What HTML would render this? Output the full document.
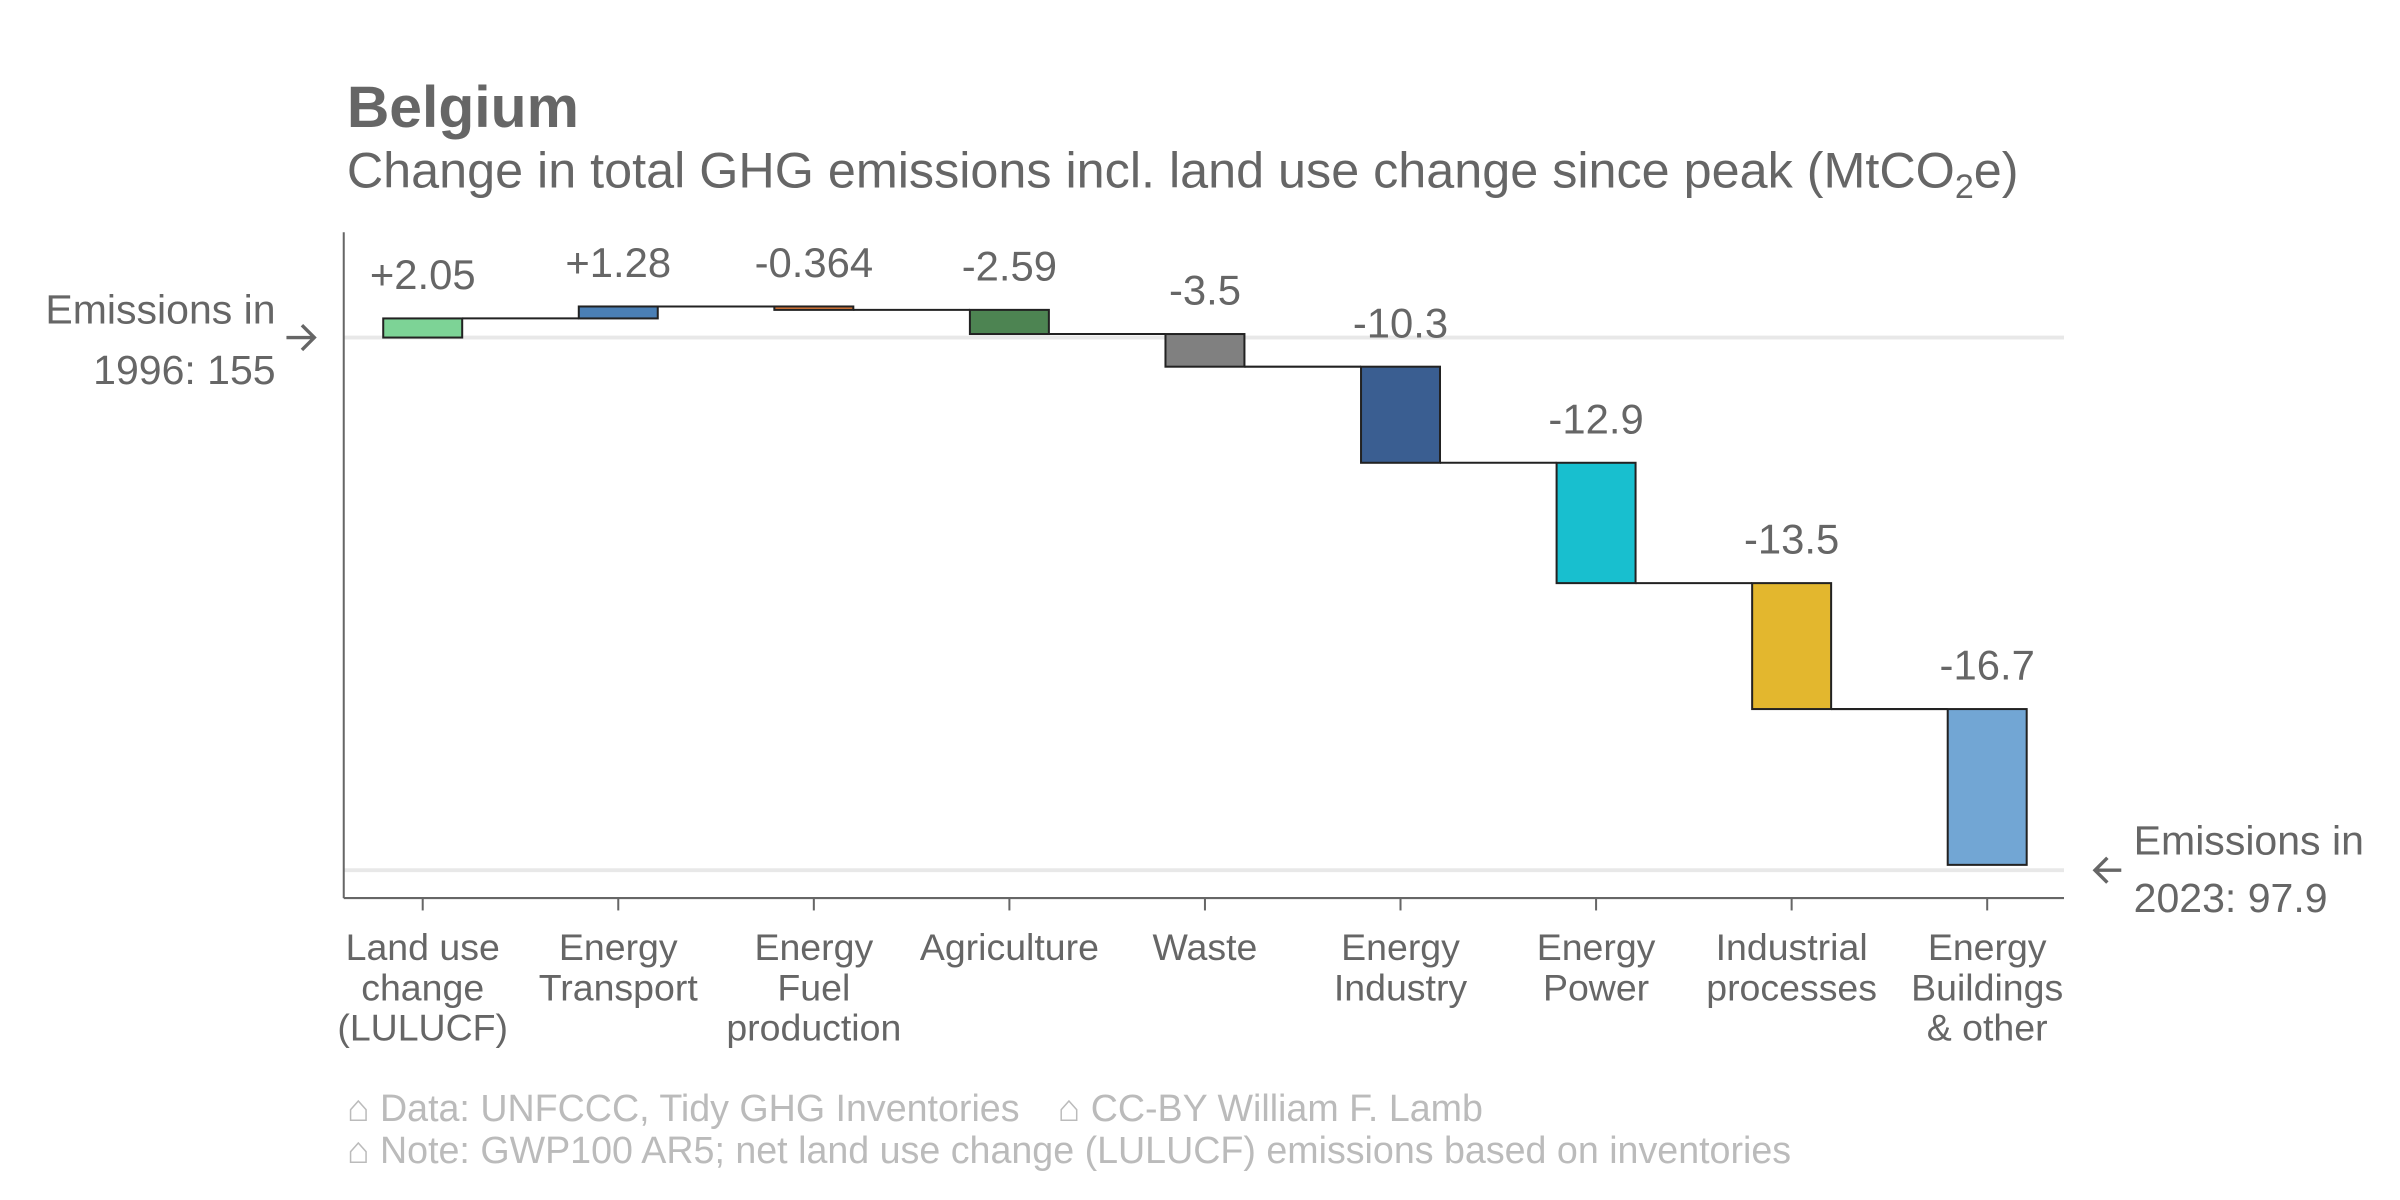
<!DOCTYPE html>
<html><head><meta charset="utf-8"><style>
html,body{margin:0;padding:0;background:#fff;}
svg{display:block;font-family:"Liberation Sans",Arial,sans-serif;}
</style></head><body>
<svg id="chart" width="2400" height="1200" viewBox="0 0 1550 775" xmlns="http://www.w3.org/2000/svg">
<text x="224" y="82" font-size="38" font-weight="bold" fill="#666">Belgium</text>
<text x="224" y="121" font-size="32.5" fill="#666">Change in total GHG emissions incl. land use change since peak (MtCO<tspan font-size="22" dy="7">2</tspan><tspan dy="-7">e)</tspan></text>
<g id="grid"></g>
<g id="bars"></g>
<line x1="222" y1="150" x2="222" y2="580" stroke="#666" stroke-width="1.3"/>
<line x1="222" y1="580" x2="1333" y2="580" stroke="#666" stroke-width="1.3"/>
<g id="xlabels"></g>
<g font-size="26.5" fill="#666">
<text x="178" y="209" text-anchor="end">Emissions in</text>
<text id="startLbl" x="178" y="248" text-anchor="end"></text>
<path d="M185 218 H203 M195 210 L203 218 L195 226" stroke="#666" stroke-width="2.2" fill="none"/>
</g>
<g font-size="26.5" fill="#666">
<text x="1378" y="552">Emissions in</text>
<text id="endLbl" x="1378" y="589"></text>
<path id="endArrow" d="M1370 562 H1353 M1361 554 L1353 562 L1361 570" stroke="#666" stroke-width="2.2" fill="none"/>
</g>
<g font-size="24.3" fill="#bbb">
<text x="224" y="724">⌂ Data: UNFCCC, Tidy GHG Inventories</text>
<text x="683" y="724">⌂ CC-BY William F. Lamb</text>
<text x="224" y="751">⌂ Note: GWP100 AR5; net land use change (LULUCF) emissions based on inventories</text>
</g>
</svg>
<script>
const categories = [["Land use","change","(LULUCF)"],["Energy","Transport"],["Energy","Fuel","production"],["Agriculture"],["Waste"],["Energy","Industry"],["Energy","Power"],["Industrial","processes"],["Energy","Buildings","& other"]];
const changes = [2.05, 1.28, -0.364, -2.59, -3.5, -10.3, -12.9, -13.5, -16.7];
const valueLabels = ["+2.05","+1.28","-0.364","-2.59","-3.5","-10.3","-12.9","-13.5","-16.7"];
const colors = ["#7dd396","#4a7fb5","#e07b39","#4d8452","#808080","#3a5e91","#18bfcf","#e3b72e","#72a6d4"];
const startYear = 1996, startValue = 155;
const endYear = 2023, endValue = 97.9;

const NS = "http://www.w3.org/2000/svg";
function yS(v){ return 218 + (startValue - v) * 6.025; }
function xS(i){ return 273 + i * 126.3; }
const BW = 51;
function mk(tag, attrs, parent){ const e=document.createElementNS(NS,tag); for(const k in attrs) e.setAttribute(k,attrs[k]); parent.appendChild(e); return e; }

const grid = document.getElementById('grid');
let g1 = mk('line',{x1:222,x2:1333,y1:yS(startValue),y2:yS(startValue),stroke:'#e8e8e8','stroke-width':2.5},grid);


let g2 = mk('line',{x1:222,x2:1333,y1:yS(endValue),y2:yS(endValue),stroke:'#e8e8e8','stroke-width':2.5},grid);



const bars = document.getElementById('bars');
const xl = document.getElementById('xlabels');
let cum = startValue;
changes.forEach((c,i)=>{
  const a = cum, b = cum + c;
  const top = Math.max(a,b), bot = Math.min(a,b);
  const x = xS(i);
  if(i < changes.length-1){
    const ln = mk('line',{x1:x+BW/2,x2:xS(i+1)-BW/2,y1:yS(b),y2:yS(b),stroke:'#222','stroke-width':1.3},bars);
    
    
  }
  const r = mk('rect',{x:x-BW/2,y:yS(top),width:BW,height:Math.max(1,yS(bot)-yS(top)),fill:colors[i],stroke:'#222','stroke-width':1.3},bars);
  
  
  const t = mk('text',{x:x,y:yS(top)-19,'text-anchor':'middle','font-size':27,fill:'#666'},bars);
  t.textContent = valueLabels[i];
  
  
  const tk = mk('line',{x1:x,x2:x,y1:580,y2:588,stroke:'#666','stroke-width':1.3},xl);
  
  
  const lt = mk('text',{x:x,y:620,'text-anchor':'middle','font-size':24.2,fill:'#666'},xl);
  
  
  categories[i].forEach((s,j)=>{ const ts=mk('tspan',{x:x,y:620+j*26},lt); ts.textContent=s; });
  cum = b;
});
document.getElementById('startLbl').textContent = startYear + ': ' + startValue;
document.getElementById('endLbl').textContent = endYear + ': ' + endValue;
</script>
</body></html>
